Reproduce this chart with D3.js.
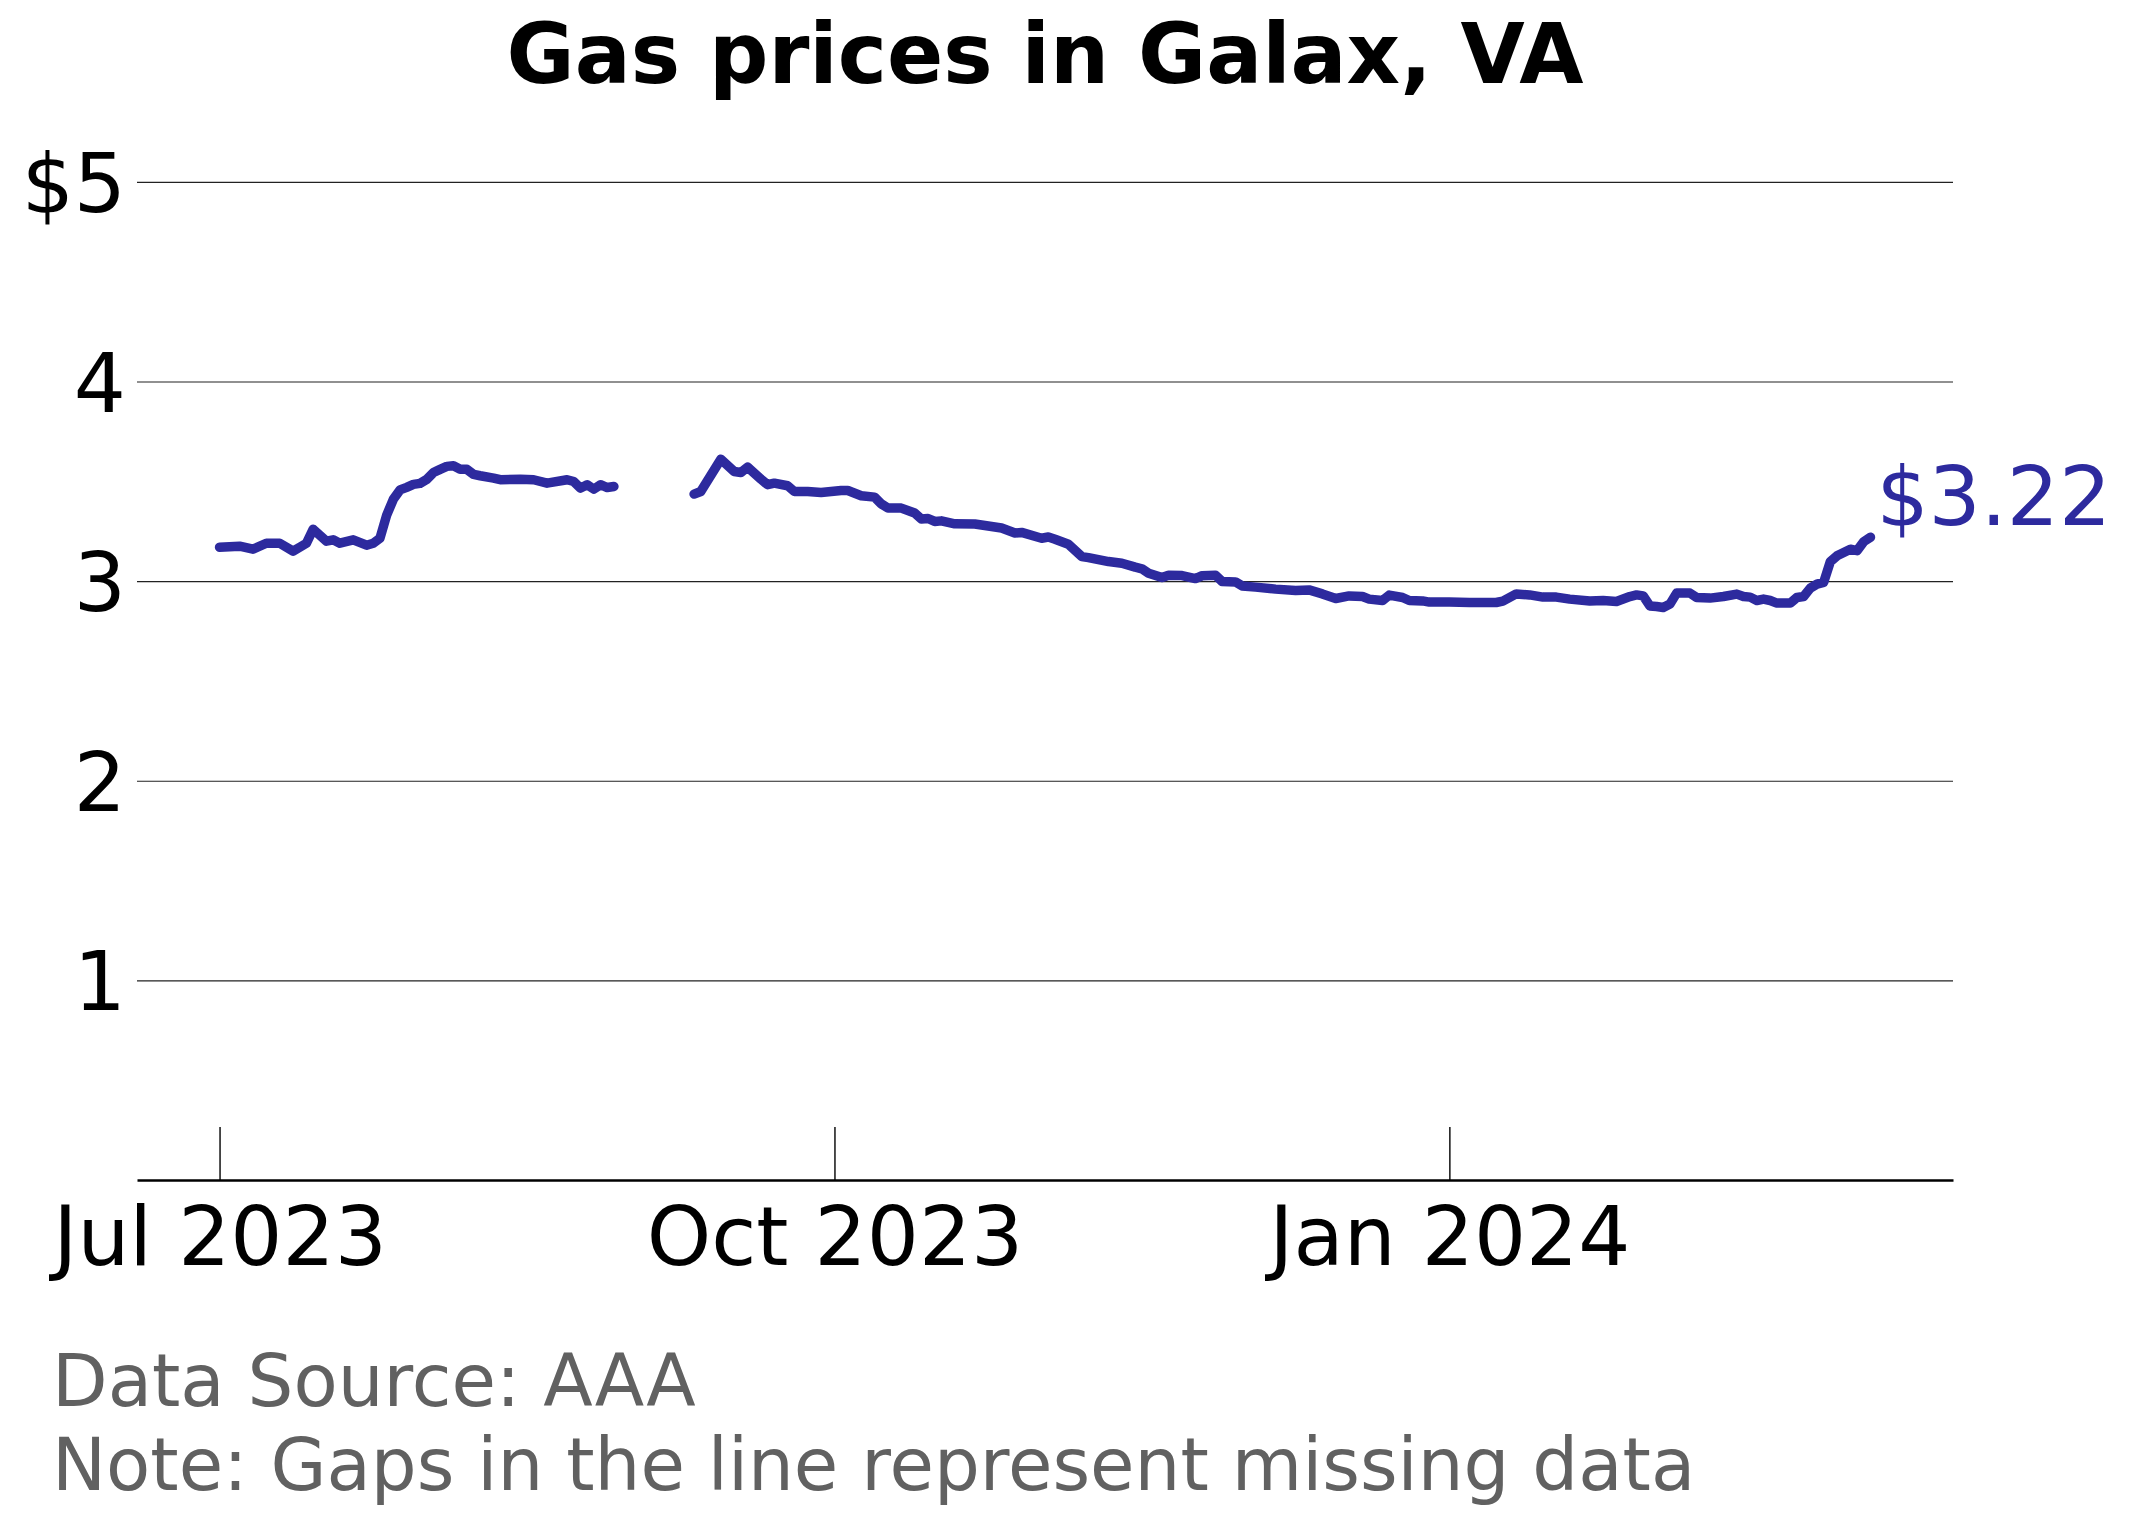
<!DOCTYPE html>
<html>
<head>
<meta charset="utf-8">
<script src="https://cdn.jsdelivr.net/npm/d3@7"></script>
<style>
  body { margin: 0; background: #fff; }
  svg { display: block; font-family: "DejaVu Sans", sans-serif; }
</style>
</head>
<body>
<svg width="2132" height="1524"></svg>
<script>
// prices, null marks the missing stretch
var dates = [
  "2023-07-01","2023-07-04","2023-07-06","2023-07-08","2023-07-10","2023-07-12","2023-07-13","2023-07-14",
  "2023-07-15","2023-07-16","2023-07-17","2023-07-18","2023-07-19","2023-07-21","2023-07-23","2023-07-24",
  "2023-07-25","2023-07-26","2023-07-27","2023-07-28","2023-07-29","2023-07-30","2023-07-31","2023-08-01",
  "2023-08-02","2023-08-03","2023-08-04","2023-08-05","2023-08-06","2023-08-07","2023-08-08","2023-08-09",
  "2023-08-11","2023-08-12","2023-08-15","2023-08-17","2023-08-19","2023-08-22","2023-08-23","2023-08-24",
  "2023-08-25","2023-08-26","2023-08-27","2023-08-28","2023-08-29",
  "2023-09-04",
  "2023-09-10","2023-09-11","2023-09-14","2023-09-16","2023-09-17","2023-09-18","2023-09-20","2023-09-21",
  "2023-09-22","2023-09-24","2023-09-25","2023-09-27","2023-09-29","2023-10-02","2023-10-03","2023-10-05",
  "2023-10-07","2023-10-08","2023-10-09","2023-10-11","2023-10-13","2023-10-14","2023-10-15","2023-10-16",
  "2023-10-17","2023-10-19","2023-10-22","2023-10-23","2023-10-26","2023-10-28","2023-10-29","2023-11-01",
  "2023-11-02","2023-11-03","2023-11-05","2023-11-07","2023-11-08","2023-11-11","2023-11-13","2023-11-15",
  "2023-11-16","2023-11-17","2023-11-19","2023-11-20","2023-11-22","2023-11-24","2023-11-25","2023-11-27",
  "2023-11-28","2023-11-30","2023-12-01","2023-12-03","2023-12-06","2023-12-09","2023-12-11","2023-12-13",
  "2023-12-15","2023-12-17","2023-12-19","2023-12-20","2023-12-22","2023-12-23","2023-12-25","2023-12-26",
  "2023-12-28","2023-12-29","2024-01-01","2024-01-04","2024-01-08","2024-01-09","2024-01-11","2024-01-13",
  "2024-01-15","2024-01-17","2024-01-19","2024-01-22","2024-01-24","2024-01-26","2024-01-28","2024-01-29",
  "2024-01-30","2024-01-31","2024-02-01","2024-02-02","2024-02-03","2024-02-04","2024-02-06","2024-02-07",
  "2024-02-09","2024-02-11","2024-02-13","2024-02-14","2024-02-15","2024-02-16","2024-02-17","2024-02-18",
  "2024-02-19","2024-02-21","2024-02-22","2024-02-23","2024-02-24","2024-02-25","2024-02-26","2024-02-27",
  "2024-02-28","2024-03-01","2024-03-02","2024-03-03","2024-03-04"
];
var prices = [
  3.170,3.175,3.160,3.190,3.190,3.150,3.170,3.190,
  3.260,3.230,3.200,3.207,3.190,3.207,3.180,3.190,
  3.215,3.330,3.410,3.457,3.470,3.485,3.490,3.510,
  3.544,3.560,3.575,3.578,3.561,3.560,3.535,3.528,
  3.516,3.508,3.511,3.508,3.491,3.508,3.499,3.466,
  3.483,3.461,3.483,3.469,3.474,
  null,
  3.436,3.449,3.611,3.549,3.544,3.571,3.511,3.483,
  3.491,3.478,3.449,3.449,3.444,3.454,3.454,3.428,
  3.421,3.387,3.366,3.366,3.341,3.311,3.314,3.299,
  3.302,3.287,3.286,3.281,3.266,3.241,3.244,3.215,
  3.221,3.210,3.185,3.123,3.118,3.098,3.090,3.070,
  3.062,3.040,3.018,3.030,3.028,3.013,3.027,3.030,
  2.998,2.996,2.976,2.970,2.960,2.953,2.956,2.936,
  2.913,2.926,2.923,2.910,2.903,2.930,2.918,2.903,
  2.901,2.895,2.895,2.893,2.893,2.900,2.936,2.931,
  2.920,2.920,2.910,2.901,2.903,2.898,2.923,2.931,
  2.926,2.876,2.873,2.868,2.885,2.940,2.940,2.918,
  2.915,2.923,2.935,2.923,2.920,2.903,2.910,2.903,
  2.890,2.890,2.918,2.923,2.965,2.985,2.994,3.098,
  3.127,3.160,3.153,3.198,3.220
];
var yTicks = [1, 2, 3, 4, 5];
var yTickLabels = ["1", "2", "3", "4", "$5"];
var xTicks = ["2023-07-01", "2023-10-01", "2024-01-01"];

var title = "Gas prices in Galax, VA";
var notes = ["Data Source: AAA", "Note: Gaps in the line represent missing data"];

var parse = d3.timeParse("%Y-%m-%d");
var lineColor = "#2d2a9e";

var data = dates.map(function(d, i) { return { date: parse(d), price: prices[i] }; });

const plotLeft = 137, plotRight = 1953, plotTop = 132, plotBottom = 1180;

const svg = d3.select('svg');

// matplotlib-like 5% margin on the date range
var ext = d3.extent(data, function(d) { return d.date; });
var pad = (ext[1] - ext[0]) * 0.05;
const xScale = d3.scaleTime()
  .domain([new Date(+ext[0] - pad), new Date(+ext[1] + pad)])
  .range([plotLeft, plotRight]);

const yScale = d3.scaleLinear()
  .domain([0, 5.25])
  .range([plotBottom, plotTop]);

// horizontal grid with labels
const yAxis = svg.append('g')
  .attr('transform', `translate(${plotLeft}, 0)`)
  .call(d3.axisLeft(yScale)
    .tickValues(yTicks)
    .tickSize(-(plotRight - plotLeft))
    .tickPadding(11)
    .tickFormat(function(d, i) { return yTickLabels[i]; }));
yAxis.select('.domain').remove();
yAxis.selectAll('.tick line').attr('stroke', '#222').attr('stroke-width', 1.2);
yAxis.selectAll('.tick text')
  .attr('font-size', 82)
  .attr('font-family', '"DejaVu Sans", sans-serif')
  .attr('fill', '#000')
  .attr('dy', '0.36em');

// bottom axis with inward ticks
const xAxis = svg.append('g')
  .attr('transform', `translate(0, ${plotBottom})`)
  .call(d3.axisBottom(xScale)
    .tickValues(xTicks.map(parse))
    .tickSizeInner(-53)
    .tickSizeOuter(0)
    .tickPadding(27)
    .tickFormat(d3.timeFormat("%b %Y")));
xAxis.select('.domain').attr('stroke', '#000').attr('stroke-width', 2.6);
xAxis.selectAll('.tick line').attr('stroke', '#000').attr('stroke-width', 1.4);
xAxis.selectAll('.tick text')
  .attr('font-size', 82)
  .attr('font-family', '"DejaVu Sans", sans-serif')
  .attr('fill', '#000');

const line = d3.line()
  .defined(function(d) { return d.price !== null; })
  .x(function(d) { return xScale(d.date); })
  .y(function(d) { return yScale(d.price); });

svg.append('path')
  .datum(data)
  .attr('fill', 'none')
  .attr('stroke', lineColor)
  .attr('stroke-width', 9.5)
  .attr('stroke-linejoin', 'round')
  .attr('stroke-linecap', 'round')
  .attr('d', line);

var last = data[data.length - 1];
svg.append('text')
  .attr('x', xScale(last.date) + 6)
  .attr('y', yScale(last.price) - 12)
  .attr('font-size', 82)
  .attr('fill', lineColor)
  .text('$' + last.price.toFixed(2));

svg.append('text')
  .attr('x', (plotLeft + plotRight) / 2)
  .attr('y', 83)
  .attr('text-anchor', 'middle')
  .attr('font-size', 83)
  .attr('font-weight', 'bold')
  .attr('fill', '#000')
  .text(title);

svg.selectAll('.note')
  .data(notes)
  .enter()
  .append('text')
  .attr('class', 'note')
  .attr('x', 52)
  .attr('y', function(d, i) { return 1406 + i * 84; })
  .attr('font-size', 72.3)
  .attr('fill', '#616161')
  .text(function(d) { return d; });
</script>
</body>
</html>
